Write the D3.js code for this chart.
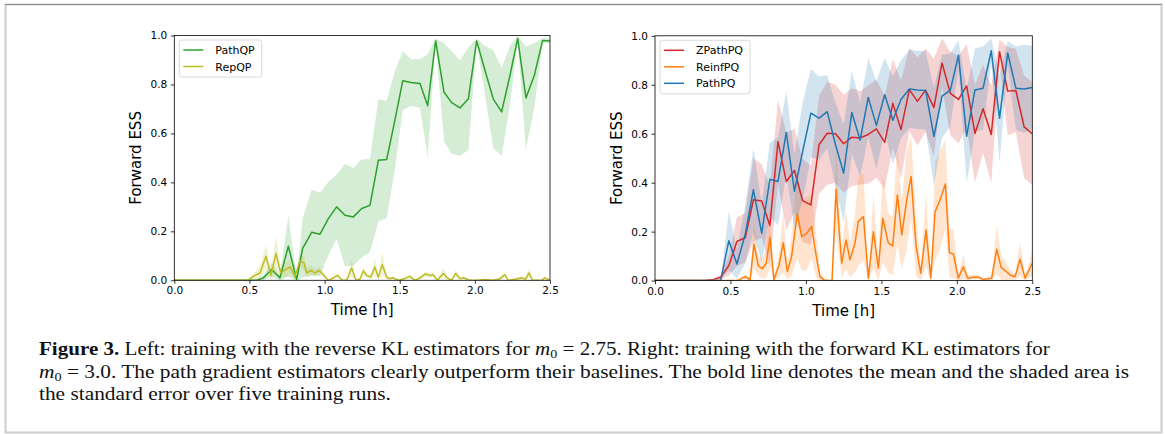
<!DOCTYPE html>
<html>
<head>
<meta charset="utf-8">
<script src="https://cdn.jsdelivr.net/npm/d3@7"></script>
<style>
  body { margin: 0; background: #fff; }
  svg { display: block; }
</style>
</head>
<body>
<script>
// ---------- data: left panel (reverse KL) ----------
const timePathQP = [0, 0.5, 0.548, 0.592, 0.648, 0.703, 0.759, 0.814, 0.854, 0.914, 0.969,
  1.025, 1.080, 1.136, 1.191, 1.247, 1.302, 1.358, 1.413, 1.468,
  1.520, 1.575, 1.635, 1.686, 1.739, 1.795, 1.846, 1.901, 1.957,
  2.012, 2.067, 2.123, 2.178, 2.234, 2.285, 2.340, 2.396, 2.451, 2.5];
const pathQP = [0, 0, 0, 0.01, 0.044, 0.01, 0.139, 0.003, 0.13, 0.196, 0.188,
  0.252, 0.30, 0.266, 0.259, 0.293, 0.306, 0.49, 0.493, 0.654,
  0.815, 0.808, 0.804, 0.713, 0.978, 0.768, 0.726, 0.704, 0.742,
  0.978, 0.858, 0.74, 0.688, 0.838, 0.988, 0.745, 0.838, 0.98, 0.978];
const pathQPErr = [0, 0, 0, 0.01, 0.03, 0.01, 0.125, 0.005, 0.12, 0.175, 0.17,
  0.15, 0.13, 0.21, 0.2, 0.2, 0.19, 0.25, 0.24, 0.2,
  0.12, 0.095, 0.1, 0.21, 0.01, 0.2, 0.21, 0.195, 0.21,
  0.01, 0.1, 0.2, 0.18, 0.12, 0.01, 0.21, 0.13, 0.01, 0.01];

const timeRepQP = [0, 0.486, 0.537, 0.570, 0.610, 0.643, 0.677, 0.708, 0.743, 0.770,
  0.803, 0.836, 0.863, 0.881, 0.910, 0.936, 0.965, 0.996, 1.025, 1.058,
  1.087, 1.118, 1.147, 1.180, 1.209, 1.235, 1.258, 1.280, 1.307, 1.335,
  1.357, 1.384, 1.413, 1.435, 1.457, 1.491, 1.524, 1.568, 1.601, 1.635,
  1.672, 1.701, 1.723, 1.750, 1.790, 1.817, 1.845, 1.872, 1.901, 1.927,
  1.967, 2.012, 2.067, 2.123, 2.163, 2.200, 2.222, 2.278, 2.311, 2.338,
  2.360, 2.384, 2.444, 2.466, 2.5];
const repQP = [0, 0, 0.02, 0.03, 0.098, 0.02, 0.11, 0.03, 0.045, 0.055,
  0.015, 0.08, 0.07, 0.03, 0.04, 0.03, 0.04, 0.02, 0, 0.01,
  0.02, 0, 0, 0.05, 0, 0.005, 0.038, 0.02, 0.013, 0.054,
  0.013, 0.064, 0.013, 0.007, 0.01, 0, 0.005, 0.016, 0, 0.01,
  0.026, 0.02, 0.023, 0, 0.028, 0.01, 0, 0.028, 0.007, 0.01,
  0, 0, 0.003, 0, 0.005, 0.023, 0, 0.005, 0.01, 0.005,
  0.03, 0, 0, 0.01, 0];
const repQPErr = [0, 0, 0.015, 0.03, 0.05, 0.02, 0.07, 0.02, 0.03, 0.03,
  0.01, 0.025, 0.03, 0.02, 0.02, 0.015, 0.015, 0.01, 0, 0.01,
  0.01, 0, 0, 0.035, 0, 0.005, 0.02, 0.01, 0.01, 0.035,
  0.01, 0.05, 0.01, 0.005, 0.008, 0, 0.005, 0.01, 0, 0.008,
  0.012, 0.01, 0.012, 0, 0.02, 0.01, 0, 0.015, 0.005, 0.008,
  0, 0, 0.003, 0, 0.005, 0.012, 0, 0.005, 0.008, 0.005,
  0.02, 0, 0, 0.008, 0];

// ---------- data: right panel (forward KL) ----------
const timeR = [0, 0.054, 0.109, 0.163, 0.217, 0.272, 0.326, 0.380, 0.435, 0.489,
  0.543, 0.598, 0.652, 0.707, 0.761, 0.815, 0.870, 0.924, 0.978, 1.033,
  1.087, 1.141, 1.196, 1.250, 1.304, 1.359, 1.413, 1.467, 1.522, 1.576,
  1.630, 1.685, 1.739, 1.793, 1.848, 1.902, 1.957, 2.011, 2.065, 2.120,
  2.174, 2.228, 2.283, 2.337, 2.391, 2.446, 2.5];
const zPathPQ = [0, 0, 0, 0, 0, 0, 0, 0.003, 0.014, 0.061,
  0.16, 0.175, 0.33, 0.325, 0.225, 0.568, 0.405, 0.45, 0.327, 0.309,
  0.555, 0.602, 0.60, 0.559, 0.586, 0.583, 0.597, 0.62, 0.565, 0.724,
  0.617, 0.78, 0.732, 0.778, 0.707, 0.889, 0.765, 0.74, 0.795, 0.601,
  0.702, 0.597, 0.935, 0.774, 0.777, 0.628, 0.60];
const zPathPQErr = [0, 0, 0, 0, 0, 0, 0, 0.003, 0.01, 0.04,
  0.1, 0.1, 0.17, 0.15, 0.16, 0.17, 0.2, 0.17, 0.17, 0.16,
  0.2, 0.21, 0.2, 0.2, 0.2, 0.19, 0.2, 0.2, 0.19, 0.18,
  0.2, 0.17, 0.18, 0.17, 0.2, 0.1, 0.17, 0.18, 0.17, 0.2,
  0.18, 0.2, 0.05, 0.18, 0.17, 0.21, 0.21];
const pathPQ = [0, 0, 0, 0, 0, 0, 0, 0, 0, 0.163,
  0.068, 0.19, 0.371, 0.194, 0.414, 0.405, 0.605, 0.365, 0.527, 0.684,
  0.664, 0.69, 0.555, 0.439, 0.687, 0.574, 0.748, 0.634, 0.759, 0.655,
  0.74, 0.783, 0.779, 0.777, 0.589, 0.754, 0.778, 0.921, 0.59, 0.779,
  0.786, 0.939, 0.663, 0.93, 0.786, 0.783, 0.789];
const pathPQErr = [0, 0, 0, 0, 0, 0, 0, 0, 0, 0.12,
  0.06, 0.12, 0.17, 0.12, 0.15, 0.18, 0.17, 0.15, 0.2, 0.18,
  0.17, 0.15, 0.17, 0.2, 0.17, 0.15, 0.16, 0.18, 0.15, 0.18,
  0.16, 0.16, 0.16, 0.16, 0.2, 0.17, 0.15, 0.06, 0.19, 0.17,
  0.17, 0.05, 0.18, 0.05, 0.17, 0.18, 0.17];

const timeReinf = [0, 0.545, 0.60, 0.63, 0.656, 0.685, 0.711, 0.737, 0.762, 0.788,
  0.822, 0.85, 0.877, 0.905, 0.943, 0.972, 1.005, 1.038, 1.067, 1.093,
  1.12, 1.147, 1.173, 1.2, 1.237, 1.266, 1.292, 1.325, 1.347, 1.381,
  1.414, 1.447, 1.480, 1.509, 1.546, 1.575, 1.606, 1.635, 1.668, 1.697,
  1.730, 1.761, 1.796, 1.827, 1.856, 1.889, 1.924, 1.951, 1.977, 2.010,
  2.043, 2.072, 2.110, 2.143, 2.176, 2.231, 2.264, 2.293, 2.32, 2.353,
  2.386, 2.419, 2.452, 2.5];
const reinfPQ = [0, 0, 0.016, 0.003, 0.149, 0.06, 0.049, 0.071, 0.177, 0.003,
  0.064, 0.155, 0.037, 0.098, 0.272, 0.18, 0.193, 0.221, 0.105, 0.016,
  0.003, 0, 0, 0.373, 0.071, 0.166, 0.085, 0.153, 0.241, 0.262,
  0.01, 0.2, 0.051, 0.255, 0.153, 0.142, 0.35, 0.187, 0.33, 0.425,
  0.139, 0.03, 0.207, 0.01, 0.282, 0.33, 0.395, 0.114, 0.109, 0.01,
  0.057, 0.01, 0.014, 0.014, 0.005, 0.01, 0.128, 0.055, 0.041, 0.023,
  0.016, 0.087, 0.01, 0.071];
const reinfPQErr = [0, 0, 0.01, 0.005, 0.1, 0.04, 0.04, 0.06, 0.12, 0.005,
  0.05, 0.12, 0.03, 0.08, 0.18, 0.14, 0.15, 0.13, 0.09, 0.02,
  0.005, 0, 0, 0.17, 0.06, 0.12, 0.07, 0.12, 0.18, 0.18,
  0.01, 0.15, 0.05, 0.18, 0.12, 0.12, 0.2, 0.14, 0.2, 0.17,
  0.12, 0.03, 0.15, 0.01, 0.2, 0.2, 0.18, 0.1, 0.1, 0.01,
  0.05, 0.01, 0.01, 0.01, 0.005, 0.01, 0.1, 0.05, 0.04, 0.02,
  0.015, 0.07, 0.01, 0.05];

const xTicks = [0, 0.5, 1.0, 1.5, 2.0, 2.5];
const yTicks = [0, 0.2, 0.4, 0.6, 0.8, 1.0];

const W = 1165, H = 434;
const plotFont = 'DejaVu Sans, sans-serif';

const svg = d3.select('body').append('svg')
    .attr('width', W)
    .attr('height', H);

// page frame
svg.append('rect')
    .attr('x', 5.5).attr('y', 4.5)
    .attr('width', 1156).attr('height', 428)
    .attr('fill', 'none').attr('stroke', '#cdcdcd').attr('stroke-width', 2);
svg.append('line')
    .attr('x1', 5).attr('x2', 1162).attr('y1', 4.5).attr('y2', 4.5)
    .attr('stroke', '#8e8e8e').attr('stroke-width', 1);

function drawPanel(cfg) {
  const x = d3.scaleLinear().domain([0, 2.5]).range([cfg.left, cfg.right]);
  const y = d3.scaleLinear().domain([0, 1]).range([cfg.bottom, cfg.top]);
  const g = svg.append('g');

  g.append('clipPath').attr('id', cfg.id)
    .append('rect')
      .attr('x', cfg.left).attr('y', cfg.top)
      .attr('width', cfg.right - cfg.left).attr('height', cfg.bottom - cfg.top);
  const plot = g.append('g').attr('clip-path', `url(#${cfg.id})`);

  const rows = cfg.series.map(s => s.time.map((t, i) => ({t: t, m: s.mean[i], e: s.err[i]})));

  // shaded standard error, all under the lines like matplotlib
  cfg.series.forEach((s, k) => {
    plot.append('path').datum(rows[k])
      .attr('fill', s.color).attr('fill-opacity', 0.2).attr('stroke', 'none')
      .attr('d', d3.area()
        .x(d => x(d.t))
        .y0(d => y(d.m - d.e))
        .y1(d => y(d.m + d.e)));
  });
  cfg.series.forEach((s, k) => {
    plot.append('path').datum(rows[k])
      .attr('fill', 'none').attr('stroke', s.color).attr('stroke-width', 1.5)
      .attr('stroke-linejoin', 'round')
      .attr('d', d3.line().x(d => x(d.t)).y(d => y(d.m)));
  });

  // axes
  const xAxis = g.append('g').attr('transform', `translate(0,${cfg.bottom})`)
    .call(d3.axisBottom(x).tickValues(xTicks).tickFormat(d3.format('.1f'))
      .tickSize(3.5).tickPadding(3));
  const yAxis = g.append('g').attr('transform', `translate(${cfg.left},0)`)
    .call(d3.axisLeft(y).tickValues(yTicks).tickFormat(d3.format('.1f'))
      .tickSize(3.5).tickPadding(3.5));
  [xAxis, yAxis].forEach(a => {
    a.select('.domain').remove();
    a.selectAll('line').attr('stroke', '#000').attr('stroke-width', 0.8);
    a.selectAll('text').attr('fill', '#000')
      .style('font-family', plotFont).style('font-size', '10.5px');
  });

  g.append('rect')
    .attr('x', cfg.left).attr('y', cfg.top)
    .attr('width', cfg.right - cfg.left).attr('height', cfg.bottom - cfg.top)
    .attr('fill', 'none').attr('stroke', '#000').attr('stroke-width', 0.8);

  g.append('text')
    .attr('x', (cfg.left + cfg.right) / 2).attr('y', cfg.bottom + 35)
    .attr('text-anchor', 'middle')
    .style('font-family', plotFont).style('font-size', '15px')
    .text('Time [h]');
  g.append('text')
    .attr('transform', `translate(${cfg.left - 33},${(cfg.top + cfg.bottom) / 2}) rotate(-90)`)
    .attr('text-anchor', 'middle')
    .style('font-family', plotFont).style('font-size', '15px')
    .text('Forward ESS');

  // legend
  const lx = cfg.left + 5, ly = cfg.top + 4.5;
  const step = 16.5;
  const lg = g.append('g');
  const box = lg.append('rect')
    .attr('x', lx).attr('y', ly).attr('rx', 2.5)
    .attr('height', cfg.series.length * step + 4)
    .attr('fill', '#fff').attr('fill-opacity', 0.8)
    .attr('stroke', '#d0d0d0').attr('stroke-width', 0.8);
  let maxW = 0;
  cfg.series.forEach((s, k) => {
    const cy = ly + 10 + k * step;
    lg.append('line')
      .attr('x1', lx + 4).attr('x2', lx + 24).attr('y1', cy).attr('y2', cy)
      .attr('stroke', s.color).attr('stroke-width', 1.5);
    const t = lg.append('text')
      .attr('x', lx + 36).attr('y', cy + 4)
      .style('font-family', plotFont).style('font-size', '11px')
      .text(s.name);
    maxW = Math.max(maxW, t.node().getComputedTextLength());
  });
  box.attr('width', 36 + maxW + 7);
}

drawPanel({
  id: 'clip-left', left: 174.3, right: 550, top: 35.5, bottom: 280.3,
  series: [
    {name: 'PathQP', color: '#2ca02c', time: timePathQP, mean: pathQP, err: pathQPErr},
    {name: 'RepQP', color: '#bcbd22', time: timeRepQP, mean: repQP, err: repQPErr}
  ]
});
drawPanel({
  id: 'clip-right', left: 655, right: 1032.3, top: 35.8, bottom: 280.6,
  series: [
    {name: 'ZPathPQ', color: '#d62728', time: timeR, mean: zPathPQ, err: zPathPQErr},
    {name: 'ReinfPQ', color: '#ff7f0e', time: timeReinf, mean: reinfPQ, err: reinfPQErr},
    {name: 'PathPQ', color: '#1f77b4', time: timeR, mean: pathPQ, err: pathPQErr}
  ]
});

// ---------- caption ----------
const capFont = 'Liberation Serif, serif';
const capX = 39;
function captionLine(y, parts) {
  const t = svg.append('text').attr('x', 0).attr('y', 0)
    .style('font-family', capFont).style('font-size', '18px').attr('fill', '#111');
  parts.forEach(p => {
    const ts = t.append('tspan').text(p.s);
    if (p.b) ts.style('font-weight', 'bold');
    if (p.i) ts.style('font-style', 'italic');
    if (p.sub) ts.attr('dy', 3).style('font-size', '12px');
    if (p.up) ts.attr('dy', -3);
  });
  t.attr('transform', `translate(${capX},${y})`);
  return t;
}
const cap1 = captionLine(355, [
  {s: 'Figure 3.', b: true},
  {s: ' Left: training with the reverse KL estimators for '},
  {s: 'm', i: true}, {s: '0', sub: true},
  {s: ' = 2.75. Right: training with the forward KL estimators for', up: true}
]);
const cap2 = captionLine(377.5, [
  {s: 'm', i: true}, {s: '0', sub: true},
  {s: ' = 3.0. The path gradient estimators clearly outperform their baselines. The bold line denotes the mean and the shaded area is', up: true}
]);
const cap3 = captionLine(400, [
  {s: 'the standard error over five training runs.'}
]);
// squeeze the lines horizontally to the widths of the printed caption
const sx = (1130 - capX) / cap2.node().getComputedTextLength();
const sx1 = (1050 - capX) / cap1.node().getComputedTextLength();
cap1.attr('transform', `translate(${capX},355) scale(${sx1},1)`);
cap2.attr('transform', `translate(${capX},377.5) scale(${sx},1)`);
cap3.attr('transform', `translate(${capX},400) scale(${sx},1)`);
</script>
</body>
</html>
